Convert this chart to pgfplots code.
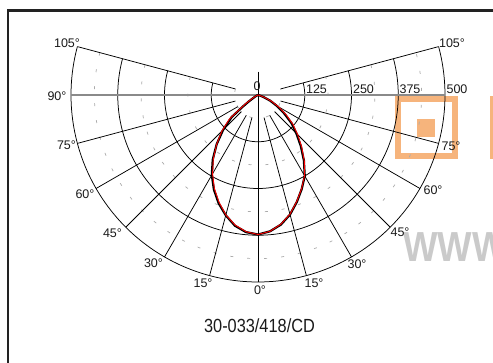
\documentclass[border=0pt]{standalone}
\usepackage{fontspec}
\setmainfont{Liberation Sans}
\usepackage{graphicx}
\usepackage{pgfplots}
\pgfplotsset{compat=1.18}
\definecolor{wmorange}{HTML}{F6B47C}
\definecolor{wmgray}{HTML}{CACACA}
\definecolor{gridgray}{HTML}{8A8A8A}
\definecolor{dashgray}{HTML}{ABABAB}
\definecolor{framecol}{HTML}{222222}
\definecolor{labcol}{HTML}{1A1A1A}
\newcommand{\px}[2]{({#1pt},{(363-#2)*1pt})}
\newcommand{\lab}[3]{\node[labcol, inner sep=0pt, font=\fontsize{12.5}{14}\selectfont] at \px{#1}{#2} {#3};}
\begin{document}
\begin{tikzpicture}
\path[use as bounding box] (0,0) rectangle (493pt,363pt);
\fill[white] (0,0) rectangle (493pt,363pt);
% frame
\draw[framecol, line width=2.3pt] (8pt,-5pt) |- (500pt,352.5pt);
% watermark
\draw[wmorange, line width=6pt] \px{398}{99} rectangle \px{455.2}{156.3};
\fill[wmorange] \px{417.3}{119} rectangle \px{435}{137.3};
\fill[wmorange] \px{490}{96} rectangle \px{498}{159.3};
\node[wmgray, anchor=base west, inner sep=0pt, font=\fontsize{42}{42}\selectfont\bfseries] at \px{403}{261.7} {\scalebox{0.87}[1]{WWW}};
\begin{axis}[at={(0pt,0pt)}, anchor=south west, x=0.374pt, y=0.374pt,
  xmin=-689.84, xmax=628.34, ymin=-716.58, ymax=254.01,
  enlargelimits=false, hide axis, clip=false]
% dashed half rings
\addplot[dashgray, line width=0.7pt, dash pattern=on 3pt off 14pt, domain=-195:15, samples=160] ({62.5*cos(x)},{62.5*sin(x)});
\addplot[dashgray, line width=0.7pt, dash pattern=on 3pt off 14pt, domain=-195:15, samples=160] ({187.5*cos(x)},{187.5*sin(x)});
\addplot[dashgray, line width=0.7pt, dash pattern=on 3pt off 14pt, domain=-195:15, samples=160] ({312.5*cos(x)},{312.5*sin(x)});
\addplot[dashgray, line width=0.7pt, dash pattern=on 3pt off 14pt, domain=-195:15, samples=160] ({437.5*cos(x)},{437.5*sin(x)});
% rings
\addplot[black, line width=0.75pt, domain=-195:15, samples=160] ({125*cos(x)},{125*sin(x)});
\addplot[black, line width=0.75pt, domain=-195:15, samples=160] ({250*cos(x)},{250*sin(x)});
\addplot[black, line width=0.75pt, domain=-195:15, samples=160] ({375*cos(x)},{375*sin(x)});
\addplot[black, line width=0.75pt, domain=-195:15, samples=160] ({500*cos(x)},{500*sin(x)});
% spokes
\addplot[black, line width=0.75pt, data cs=polar] coordinates {(15,62.5) (15,500)};
\addplot[black, line width=0.75pt, data cs=polar] coordinates {(-15,62.5) (-15,500)};
\addplot[black, line width=0.75pt, data cs=polar] coordinates {(-30,62.5) (-30,500)};
\addplot[black, line width=0.75pt, data cs=polar] coordinates {(-45,62.5) (-45,500)};
\addplot[black, line width=0.75pt, data cs=polar] coordinates {(-60,62.5) (-60,500)};
\addplot[black, line width=0.75pt, data cs=polar] coordinates {(-75,62.5) (-75,500)};
\addplot[black, line width=0.75pt, data cs=polar] coordinates {(-105,62.5) (-105,500)};
\addplot[black, line width=0.75pt, data cs=polar] coordinates {(-120,62.5) (-120,500)};
\addplot[black, line width=0.75pt, data cs=polar] coordinates {(-135,62.5) (-135,500)};
\addplot[black, line width=0.75pt, data cs=polar] coordinates {(-150,62.5) (-150,500)};
\addplot[black, line width=0.75pt, data cs=polar] coordinates {(-165,62.5) (-165,500)};
\addplot[black, line width=0.75pt, data cs=polar] coordinates {(-195,62.5) (-195,500)};
\addplot[gridgray, line width=1.4pt] coordinates {(-500,0) (500,0)};
\addplot[black, line width=0.8pt] coordinates {(0,62.5) (0,-500)};
% C0-C180 (black)
\addplot[black, line width=2.2pt, line join=round, data cs=polar] coordinates {
(-180,0) (-175,0) (-170,0) (-165,0) (-160,1) (-155,3) (-150,10) (-145,30) (-142.5,52)
(-140,92) (-135,132) (-130,172) (-125,211) (-120,247) (-115,279) (-110,308) (-105,333)
(-100,355) (-95,368) (-90,373)
(-85,366) (-80,352) (-75,331) (-70,304) (-65,277) (-60,250) (-55,214) (-50,178)
(-45,145) (-40,117) (-35,85) (-30,58) (-25,36) (-20,15) (-15,4) (-10,0) (-5,0) (0,0)};
% C90-C270 (red)
\addplot[red, line width=0.9pt, line join=round, data cs=polar] coordinates {
(-180,0) (-175,0) (-170,0) (-165,0) (-160,0) (-155,4) (-150,14) (-145,40)
(-140,100) (-135,137) (-130,172) (-125,208) (-120,243) (-115,276) (-110,305) (-105,332)
(-100,353) (-95,367) (-90,373)
(-85,366) (-80,351) (-75,330) (-70,303) (-65,276) (-60,249) (-55,216) (-50,182)
(-45,150) (-40,122) (-35,92) (-30,64) (-25,40) (-20,18) (-15,5) (-10,0) (-5,0) (0,0)};
\end{axis}
% labels
\lab{67}{43}{105°}
\lab{452}{43}{105°}
\lab{57}{96}{90°}
\lab{257}{86.5}{0}
\lab{316.5}{89.5}{125}
\lab{363.5}{89.5}{250}
\lab{410}{89.5}{375}
\lab{457}{89.5}{500}
\lab{66.5}{145.5}{75°}
\lab{451}{146}{75°}
\lab{85}{194}{60°}
\lab{433}{190.5}{60°}
\lab{112.5}{233}{45°}
\lab{400}{232}{45°}
\lab{153.5}{263.5}{30°}
\lab{357}{264.5}{30°}
\lab{203}{283}{15°}
\lab{314}{283}{15°}
\lab{260}{290}{0°}
\node[labcol, inner sep=0pt, font=\fontsize{19}{21}\selectfont] at \px{259.5}{326} {\scalebox{0.86}[1]{30-033/418/CD}};
\end{tikzpicture}
\end{document}
